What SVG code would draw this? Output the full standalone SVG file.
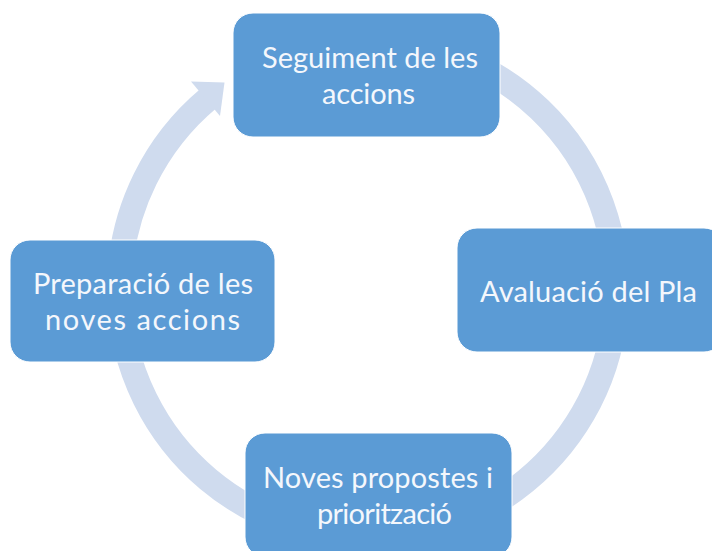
<svg xmlns="http://www.w3.org/2000/svg" width="712" height="551" viewBox="0 0 712 551">
  <style>
    .node rect { fill: #5b9bd5; stroke: #ffffff; stroke-width: 1; }
    .node text { fill: #f4f7fc; font-family: Lato, "Open Sans", "Liberation Sans", sans-serif; font-size: 29px; text-anchor: middle; }
    .ring { fill: none; stroke: #cfdbee; stroke-width: 25; }
    .head { fill: #cfdbee; }
  </style>
  <rect width="712" height="551" fill="#ffffff"/>
  <g id="connectors">
    <path class="ring" d="M 453.0 55.5 A 248.5 248.5 0 1 1 208.3 98.6"/>
    <polygon class="head" points="191.0,81.5 224.5,82.5 220.0,116.0"/>
  </g>
  <g id="node-seguiment" class="node">
    <rect x="233" y="13" width="267" height="124" rx="20"/>
    <text x="370" y="68" textLength="216">Seguiment de les</text>
    <text x="368.5" y="103.5" textLength="93">accions</text>
  </g>
  <g id="node-avaluacio" class="node">
    <rect x="457" y="228" width="267" height="124" rx="20"/>
    <text x="588.5" y="302" textLength="217">Avaluació del Pla</text>
  </g>
  <g id="node-noves" class="node">
    <rect x="245" y="433" width="267" height="124" rx="20"/>
    <text x="378" y="488" textLength="230">Noves propostes i</text>
    <text x="384.5" y="523.5" textLength="135">priorització</text>
  </g>
  <g id="node-preparacio" class="node">
    <rect x="10" y="240" width="265" height="122" rx="20"/>
    <text x="143" y="294" textLength="220">Preparació de les</text>
    <text x="142.5" y="329.5" textLength="195">noves accions</text>
  </g>
</svg>
